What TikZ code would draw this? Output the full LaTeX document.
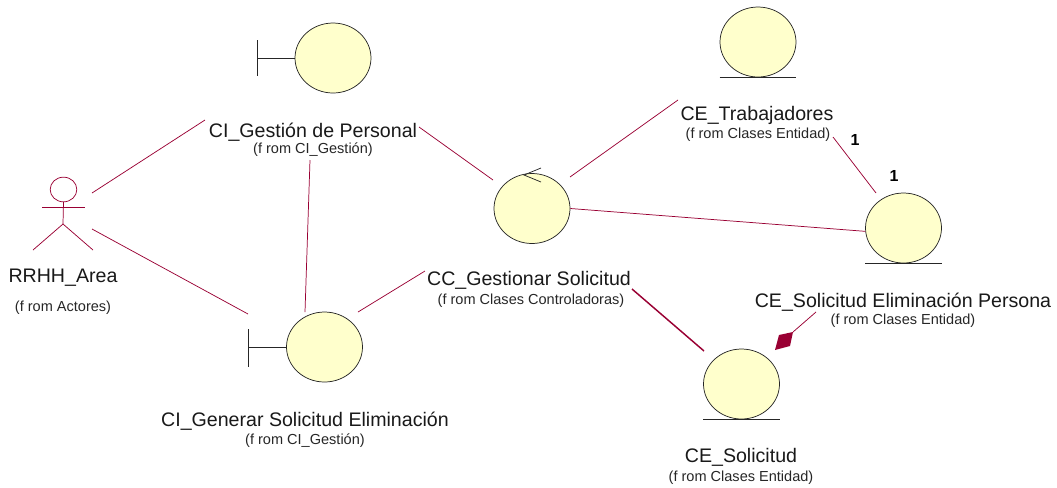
\documentclass[tikz,border=0pt]{standalone}
\usepackage{fontspec}
\setmainfont{Liberation Sans}
\usetikzlibrary{shapes.geometric}
\definecolor{linkred}{RGB}{153,0,51}
\definecolor{bodyfill}{RGB}{255,255,204}
\tikzset{
    robust/.style={ellipse,draw=black!85,fill=bodyfill,line width=.55pt,inner sep=0pt,
        minimum width=57pt,minimum height=52.5pt},
    name label/.style={font=\fontsize{14.7}{16}\selectfont,text=black!90,inner sep=0pt,yshift=-1.3pt},
    from label/.style={font=\fontsize{10.9}{12}\selectfont,text=black!85,inner sep=0pt,yshift=-.8pt},
    mult label/.style={font=\fontsize{12}{14}\selectfont\bfseries,inner sep=0pt},
    link/.style={draw=linkred,line width=.55pt},
    icon/.style={draw=black!85,line width=.55pt}
}
\begin{document}
\begin{tikzpicture}[x=.75pt,y=-.75pt]
        \useasboundingbox (0,0) rectangle (1057,487);
        % icons
        \node[robust] (CIPersonal) at (333,58) {};
        \node[robust] (CIGenerar) at (324.5,347) {};
        \node[robust] (CCSolicitud) at (532,208.5) {};
        \node[robust] (CETrabajadores) at (758,42) {};
        \node[robust] (CEPersona) at (903.5,228) {};
        \node[robust] (CESolicitud) at (741.5,384) {};
        % boundary bars
        \draw[icon] (257,40) -- (257,76);
        \draw[icon] (257,58) -- (CIPersonal.west);
        \draw[icon] (248,329) -- (248,367);
        \draw[icon] (248,347) -- (CIGenerar.west);
        % control arrow
        \draw[icon] (541,168) -- (524,175) -- (541,182);
        % entity base lines
        \draw[icon] (CETrabajadores.west |- CETrabajadores.south) -- (CETrabajadores.east |- CETrabajadores.south);
        \draw[icon] (CEPersona.west |- CEPersona.south) -- (CEPersona.east |- CEPersona.south);
        \draw[icon] (CESolicitud.west |- CESolicitud.south) -- (CESolicitud.east |- CESolicitud.south);
        % actor
        \node[ellipse,link,inner sep=0pt,minimum width=20pt,minimum height=18.5pt] (RRHH) at (63.5,189.5) {};
        \coordinate (hip) at (63,224);
        \draw[link] (RRHH.south) -- (hip);
        \draw[link] (42,207.5) -- (85,207.5);
        \draw[link] (33,250) -- (hip) -- (93,250);
        % labels
        \node[name label] (lblRRHH) at (63,276) {RRHH\_Area};
        \node[from label] at (63,307) {(f rom Actores)};
        \node[name label] (lblPersonal) at (313,130) {CI\_Gestión de Personal};
        \node[from label] at (313,149) {(f rom CI\_Gestión)};
        \node[name label] (lblGenerar) at (305,419) {CI\_Generar Solicitud Eliminación};
        \node[from label] at (305,440) {(f rom CI\_Gestión)};
        \node[name label] (lblControl) at (529,279) {CC\_Gestionar Solicitud};
        \node[from label] at (531,300) {(f rom Clases Controladoras)};
        \node[name label] (lblTrabajadores) at (757,114) {CE\_Trabajadores};
        \node[from label] at (758,134) {(f rom Clases Entidad)};
        \node[name label] (lblPersona) at (903,300) {CE\_Solicitud Eliminación Persona};
        \node[from label] at (903,320) {(f rom Clases Entidad)};
        \node[name label] (lblSolicitud) at (741,456) {CE\_Solicitud};
        \node[from label] at (741,477) {(f rom Clases Entidad)};
        \node[mult label] at (855,140) {1};
        \node[mult label] at (894,176) {1};
        % free ends of the links
        \coordinate (a1) at (92,193);
        \coordinate (a2) at (92,229);
        \coordinate (p1) at (205,120);
        \coordinate (p2) at (419,127);
        \coordinate (p3) at (310,160);
        \coordinate (g1) at (248,314);
        \coordinate (g2) at (305,312);
        \coordinate (g3) at (358,312);
        \coordinate (c1) at (493,180);
        \coordinate (c2) at (570,177);
        \coordinate (l1) at (425,271);
        \coordinate (l2) at (632,289);
        \coordinate (t1) at (678,100);
        \coordinate (t2) at (833,137);
        \coordinate (e1) at (876,193);
        \coordinate (s1) at (704,351);
        \coordinate (s2) at (775,350);
        \coordinate (q1) at (816,312);
        \coordinate (q2) at (793,332);
        % links
        \draw[link] (a1) -- (p1);
        \draw[link] (a2) -- (g1);
        \draw[link] (p3) -- (g2);
        \draw[link] (p2) -- (c1);
        \draw[link] (g3) -- (l1);
        \draw[link] (c2) -- (t1);
        \draw[link] (CCSolicitud.east) -- (CEPersona.185);
        \draw[link] (t2) -- (e1);
        \draw[link,line width=1.1pt] (l2) -- (s1);
        \draw[link] (q1) -- (q2);
        \fill[linkred] (s2) -- (779,335) -- (q2) -- (790,346) -- cycle;
    \end{tikzpicture}
\end{document}
